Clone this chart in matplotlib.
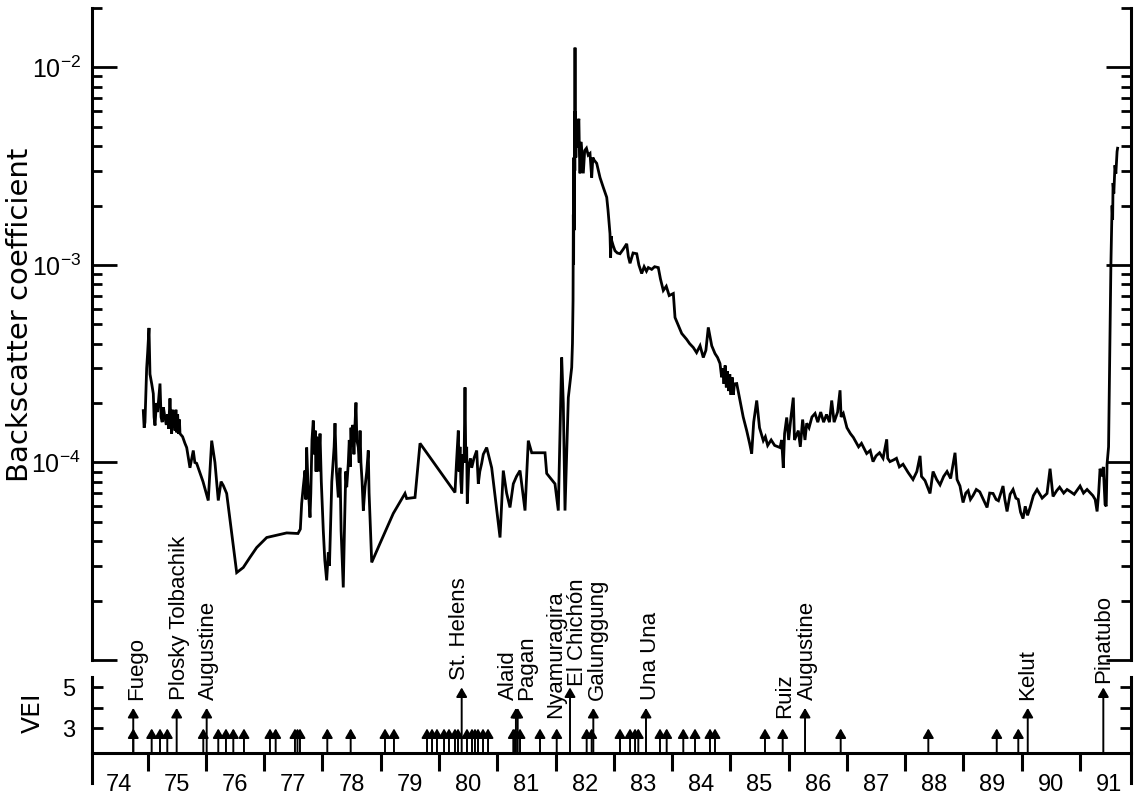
import matplotlib
matplotlib.use("Agg")
import matplotlib.pyplot as plt
from matplotlib.ticker import FixedLocator, NullFormatter, LogLocator

plt.rcParams['font.family'] = ['Liberation Sans', 'DejaVu Sans']
plt.rcParams['mathtext.default'] = 'regular'

# ---------------- data ----------------
# lidar backscatter coefficient time series (decimal year, value)
bs_year = [
    1974.925, 1974.940, 1974.954, 1974.983, 1975.000, 1975.023, 1975.040, 1975.070, 1975.097,
    1975.110, 1975.126, 1975.150, 1975.170, 1975.212, 1975.230, 1975.250, 1975.270, 1975.297,
    1975.320, 1975.340, 1975.360, 1975.383, 1975.400, 1975.412, 1975.425, 1975.440, 1975.455,
    1975.470, 1975.485, 1975.500, 1975.515, 1975.530, 1975.545, 1975.555, 1975.600, 1975.640,
    1975.670, 1975.700, 1975.726, 1975.783, 1975.810, 1975.841, 1975.950, 1976.040, 1976.099,
    1976.155, 1976.212, 1976.260, 1976.298, 1976.356, 1976.528, 1976.641, 1976.756, 1976.871,
    1977.043, 1977.386, 1977.580, 1977.620, 1977.643, 1977.670, 1977.700, 1977.715, 1977.729,
    1977.750, 1977.786, 1977.800, 1977.820, 1977.842, 1977.860, 1977.875, 1977.890, 1977.901,
    1977.930, 1977.958, 1977.980, 1978.014, 1978.040, 1978.072, 1978.100, 1978.120, 1978.160,
    1978.200, 1978.215, 1978.240, 1978.272, 1978.301, 1978.320, 1978.357, 1978.380, 1978.400,
    1978.416, 1978.443, 1978.460, 1978.475, 1978.490, 1978.501, 1978.520, 1978.540, 1978.560,
    1978.575, 1978.590, 1978.615, 1978.630, 1978.645, 1978.660, 1978.680, 1978.701, 1978.730,
    1978.760, 1978.786, 1978.800, 1978.845, 1978.987, 1979.215, 1979.416, 1979.445, 1979.588,
    1979.674, 1980.274, 1980.300, 1980.331, 1980.345, 1980.360, 1980.375, 1980.389, 1980.410,
    1980.430, 1980.446, 1980.460, 1980.475, 1980.485, 1980.510, 1980.540, 1980.561, 1980.600,
    1980.647, 1980.674, 1980.700, 1980.732, 1980.760, 1980.818, 1980.904, 1981.047, 1981.103,
    1981.160, 1981.218, 1981.275, 1981.330, 1981.390, 1981.476, 1981.532, 1981.591, 1981.819,
    1981.848, 1981.990, 1982.047, 1982.105, 1982.133, 1982.162, 1982.219, 1982.277, 1982.290,
    1982.300, 1982.305, 1982.310, 1982.315, 1982.320, 1982.325, 1982.330, 1982.334, 1982.338,
    1982.342, 1982.348, 1982.355, 1982.363, 1982.380, 1982.400, 1982.410, 1982.420, 1982.435,
    1982.449, 1982.476, 1982.500, 1982.530, 1982.560, 1982.591, 1982.620, 1982.640, 1982.660,
    1982.706, 1982.763, 1982.819, 1982.878, 1982.900, 1982.934, 1982.945, 1982.955, 1982.963,
    1982.990, 1983.020, 1983.060, 1983.106, 1983.160, 1983.221, 1983.250, 1983.278, 1983.330,
    1983.393, 1983.430, 1983.478, 1983.520, 1983.560, 1983.592, 1983.650, 1983.700, 1983.763,
    1983.800, 1983.849, 1983.900, 1983.950, 1984.021, 1984.050, 1984.100, 1984.165, 1984.250,
    1984.300, 1984.364, 1984.420, 1984.480, 1984.535, 1984.580, 1984.621, 1984.680, 1984.736,
    1984.780, 1984.822, 1984.850, 1984.870, 1984.890, 1984.910, 1984.930, 1984.950, 1984.970,
    1984.990, 1985.010, 1985.030, 1985.050, 1985.070, 1985.109, 1985.165, 1985.220, 1985.280,
    1985.330, 1985.366, 1985.400, 1985.452, 1985.500, 1985.565, 1985.600, 1985.640, 1985.700,
    1985.760, 1985.852, 1985.880, 1985.908, 1985.930, 1985.967, 1986.000, 1986.040, 1986.080,
    1986.100, 1986.166, 1986.200, 1986.240, 1986.280, 1986.310, 1986.350, 1986.400, 1986.453,
    1986.500, 1986.550, 1986.600, 1986.650, 1986.700, 1986.739, 1986.780, 1986.840, 1986.882,
    1986.900, 1986.938, 1987.000, 1987.060, 1987.110, 1987.200, 1987.250, 1987.339, 1987.400,
    1987.448, 1987.500, 1987.560, 1987.620, 1987.683, 1987.700, 1987.739, 1987.800, 1987.850,
    1987.900, 1987.963, 1988.050, 1988.134, 1988.200, 1988.255, 1988.280, 1988.340, 1988.426,
    1988.478, 1988.540, 1988.598, 1988.660, 1988.718, 1988.780, 1988.855, 1988.890, 1988.940,
    1988.993, 1989.040, 1989.080, 1989.120, 1989.164, 1989.220, 1989.280, 1989.340, 1989.405,
    1989.450, 1989.508, 1989.560, 1989.600, 1989.679, 1989.710, 1989.748, 1989.800, 1989.851,
    1989.900, 1989.940, 1989.980, 1990.022, 1990.060, 1990.100, 1990.143, 1990.200, 1990.263,
    1990.300, 1990.350, 1990.434, 1990.486, 1990.537, 1990.600, 1990.650, 1990.720, 1990.778,
    1990.840, 1990.900, 1991.001, 1991.060, 1991.121, 1991.180, 1991.220, 1991.260, 1991.293,
    1991.320, 1991.344, 1991.380, 1991.400, 1991.430, 1991.450, 1991.464, 1991.490, 1991.516,
    1991.530, 1991.550, 1991.560, 1991.567, 1991.580, 1991.600, 1991.615, 1991.636, 1991.645,
]
bs_value = [
    1.83e-4, 1.50e-4, 1.60e-4, 3.00e-4, 3.60e-4, 4.80e-4, 2.80e-4, 2.50e-4, 2.23e-4,
    1.70e-4, 1.54e-4, 2.00e-4, 1.80e-4, 2.51e-4, 1.70e-4, 1.60e-4, 1.90e-4, 1.69e-4,
    1.55e-4, 1.75e-4, 1.48e-4, 2.11e-4, 1.60e-4, 1.40e-4, 1.85e-4, 1.50e-4, 1.80e-4,
    1.45e-4, 1.85e-4, 1.42e-4, 1.75e-4, 1.40e-4, 1.65e-4, 1.40e-4, 1.35e-4, 1.25e-4,
    1.19e-4, 1.05e-4, 9.40e-5, 1.15e-4, 1.00e-4, 9.90e-5, 8.00e-5, 6.42e-5, 1.29e-4,
    1.00e-4, 6.42e-5, 8.00e-5, 7.65e-5, 6.97e-5, 2.77e-5, 2.94e-5, 3.31e-5, 3.71e-5,
    4.17e-5, 4.40e-5, 4.37e-5, 4.60e-5, 6.20e-5, 7.50e-5, 9.10e-5, 6.50e-5, 1.19e-4,
    8.00e-5, 5.27e-5, 7.00e-5, 1.30e-4, 1.63e-4, 1.10e-4, 1.45e-4, 9.00e-5, 1.35e-4,
    9.00e-5, 1.40e-4, 8.00e-5, 4.53e-5, 3.20e-5, 2.53e-5, 3.50e-5, 3.00e-5, 8.00e-5,
    1.20e-4, 1.58e-4, 9.00e-5, 6.65e-5, 9.40e-5, 4.50e-5, 2.33e-5, 5.00e-5, 9.00e-5,
    7.50e-5, 9.90e-5, 1.30e-4, 9.50e-5, 1.50e-4, 1.20e-4, 1.55e-4, 1.10e-4, 1.60e-4,
    2.01e-4, 1.30e-4, 1.19e-4, 1.00e-4, 1.45e-4, 1.00e-4, 8.00e-5, 5.71e-5, 7.50e-5,
    9.00e-5, 1.15e-4, 7.00e-5, 3.12e-5, 3.89e-5, 5.52e-5, 6.97e-5, 6.57e-5, 6.65e-5,
    1.25e-4, 7.05e-5, 1.00e-4, 1.45e-4, 9.00e-5, 1.20e-4, 8.00e-5, 6.97e-5, 1.10e-4,
    1.00e-4, 2.40e-4, 1.00e-4, 1.20e-4, 6.20e-5, 9.50e-5, 1.05e-4, 9.40e-5, 1.05e-4,
    1.15e-4, 7.80e-5, 9.00e-5, 9.90e-5, 1.10e-4, 1.19e-4, 9.40e-5, 4.17e-5, 9.10e-5,
    7.00e-5, 5.92e-5, 7.80e-5, 8.50e-5, 9.10e-5, 5.71e-5, 1.29e-4, 1.12e-4, 1.12e-4,
    8.80e-5, 7.80e-5, 5.71e-5, 3.40e-4, 1.99e-4, 5.71e-5, 2.13e-4, 3.03e-4, 4.00e-4,
    6.60e-4, 1.80e-3, 1.00e-3, 3.50e-3, 1.50e-3, 6.00e-3, 3.00e-3, 1.26e-2, 3.50e-3,
    6.00e-3, 3.50e-3, 5.20e-3, 3.94e-3, 5.00e-3, 5.50e-3, 3.60e-3, 2.91e-3, 4.20e-3,
    3.80e-3, 2.91e-3, 3.80e-3, 3.90e-3, 3.60e-3, 3.67e-3, 2.77e-3, 3.50e-3, 3.40e-3,
    3.27e-3, 2.77e-3, 2.47e-3, 2.20e-3, 1.90e-3, 1.44e-3, 1.09e-3, 1.40e-3, 1.33e-3,
    1.25e-3, 1.18e-3, 1.15e-3, 1.14e-3, 1.20e-3, 1.28e-3, 1.10e-3, 1.02e-3, 1.15e-3,
    1.14e-3, 1.00e-3, 9.05e-4, 9.80e-4, 9.30e-4, 9.70e-4, 9.50e-4, 9.80e-4, 9.70e-4,
    8.50e-4, 7.43e-4, 7.80e-4, 7.00e-4, 7.17e-4, 5.42e-4, 5.00e-4, 4.50e-4, 4.20e-4,
    4.00e-4, 3.82e-4, 3.60e-4, 3.90e-4, 3.40e-4, 3.70e-4, 4.83e-4, 3.90e-4, 3.56e-4,
    3.40e-4, 3.17e-4, 2.70e-4, 3.00e-4, 2.50e-4, 3.10e-4, 2.40e-4, 2.90e-4, 2.30e-4,
    2.80e-4, 2.20e-4, 2.70e-4, 2.20e-4, 2.50e-4, 2.51e-4, 2.06e-4, 1.70e-4, 1.45e-4,
    1.25e-4, 1.11e-4, 1.60e-4, 2.06e-4, 1.50e-4, 1.29e-4, 1.35e-4, 1.22e-4, 1.30e-4,
    1.22e-4, 1.19e-4, 1.30e-4, 9.40e-5, 1.40e-4, 1.69e-4, 1.30e-4, 1.70e-4, 2.13e-4,
    1.30e-4, 1.45e-4, 1.20e-4, 1.65e-4, 1.30e-4, 1.58e-4, 1.50e-4, 1.70e-4, 1.77e-4,
    1.60e-4, 1.80e-4, 1.60e-4, 1.75e-4, 1.60e-4, 2.06e-4, 1.60e-4, 1.80e-4, 2.32e-4,
    1.70e-4, 1.77e-4, 1.50e-4, 1.40e-4, 1.34e-4, 1.20e-4, 1.25e-4, 1.11e-4, 1.15e-4,
    1.01e-4, 1.08e-4, 1.12e-4, 1.05e-4, 1.31e-4, 1.05e-4, 1.01e-4, 1.03e-4, 1.05e-4,
    9.50e-5, 9.80e-5, 8.90e-5, 8.20e-5, 9.00e-5, 1.08e-4, 8.50e-5, 8.10e-5, 6.97e-5,
    9.00e-5, 8.20e-5, 7.70e-5, 8.50e-5, 9.00e-5, 8.30e-5, 1.12e-4, 8.20e-5, 7.60e-5,
    6.27e-5, 7.00e-5, 7.20e-5, 6.50e-5, 6.80e-5, 7.30e-5, 7.10e-5, 6.50e-5, 5.92e-5,
    7.00e-5, 6.97e-5, 6.50e-5, 6.40e-5, 7.60e-5, 6.50e-5, 5.65e-5, 6.90e-5, 7.30e-5,
    6.60e-5, 6.50e-5, 5.60e-5, 5.20e-5, 6.00e-5, 5.40e-5, 5.92e-5, 6.80e-5, 7.30e-5,
    7.00e-5, 6.60e-5, 6.97e-5, 9.30e-5, 6.73e-5, 7.20e-5, 7.50e-5, 7.00e-5, 7.30e-5,
    7.10e-5, 6.90e-5, 7.60e-5, 7.00e-5, 7.30e-5, 7.00e-5, 6.80e-5, 6.50e-5, 5.65e-5,
    7.00e-5, 9.30e-5, 8.50e-5, 9.50e-5, 6.13e-5, 6.00e-5, 9.80e-5, 1.20e-4, 4.71e-4,
    1.00e-3, 2.00e-3, 1.70e-3, 2.60e-3, 2.30e-3, 3.20e-3, 2.90e-3, 3.75e-3, 3.90e-3,
]

# volcanic eruptions: decimal year and Volcanic Explosivity Index
vei3_years = [
    1974.753, 1975.069, 1975.212, 1975.337, 1975.955, 1976.212, 1976.344, 1976.470, 1976.653,
    1977.099, 1977.197, 1977.528, 1977.571, 1977.614, 1978.083, 1978.484, 1979.073, 1979.227,
    1979.794, 1979.880, 1979.965, 1980.086, 1980.171, 1980.274, 1980.326, 1980.480, 1980.566,
    1980.617, 1980.669, 1980.755, 1980.841, 1981.275, 1981.304, 1981.390, 1981.733, 1982.020,
    1982.534, 1982.620, 1983.106, 1983.278, 1983.364, 1983.420, 1983.792, 1983.907, 1984.192,
    1984.393, 1984.650, 1984.736, 1985.594, 1985.898, 1986.893, 1988.397, 1989.571, 1989.941,
]
vei4_years = [1974.753, 1975.498, 1976.013, 1981.320, 1981.350, 1982.648, 1983.552, 1986.281, 1990.103]
vei5_years = [1980.389, 1982.248, 1991.400]

volcano_names = ["Fuego", "Plosky Tolbachik", "Augustine", "St. Helens", "Alaid", "Pagan",
                 "Nyamuragira", "El Chichón", "Galunggung", "Una Una", "Ruiz", "Augustine",
                 "Kelut", "Pinatubo"]
volcano_label_year = [1974.817, 1975.538, 1976.052, 1980.360, 1981.184, 1981.510,
                      1982.000, 1982.370, 1982.711, 1983.621, 1985.938, 1986.316,
                      1990.109, 1991.397]
volcano_label_base = [4.39, 4.39, 4.39, 5.37, 4.39, 4.39,
                      3.51, 5.05, 4.39, 4.39, 3.51, 4.39,
                      4.39, 5.22]

year_ticks = list(range(1975, 1992))
year_label_pos = [y + 0.5 for y in range(1974, 1992)]
year_labels = [f"{y % 100:02d}" for y in range(1974, 1992)]

# ---------------- figure ----------------
W, H = 1141, 798
fig = plt.figure(figsize=(W / 100, H / 100), dpi=100)
XL = (1974.045, 1991.875)

ax = fig.add_axes([92 / W, 1 - 660 / H, (1131 - 92) / W, (660 - 8) / H])
ax.plot(bs_year, bs_value, color='black', lw=2.0, solid_joinstyle='miter')
ax.set_yscale('log')
ax.set_ylim(1e-5, 2e-2)
ax.set_xlim(*XL)
for s in ('top', 'bottom'):
    ax.spines[s].set_visible(False)
for s in ('left', 'right'):
    ax.spines[s].set_linewidth(2.2)
ax.set_xticks([])
ax.yaxis.set_major_locator(FixedLocator([1e-5, 1e-4, 1e-3, 1e-2]))
ax.yaxis.set_minor_locator(LogLocator(base=10, subs=range(2, 10)))
ax.yaxis.set_minor_formatter(NullFormatter())
ax.set_yticklabels(['', r'$10^{-4}$', r'$10^{-3}$', r'$10^{-2}$'])
ax.tick_params(axis='y', which='major', direction='in', length=18, width=2.0,
               right=True, labelsize=18, pad=8)
ax.tick_params(axis='y', which='minor', direction='in', length=7, width=2.0, right=True)
ax.set_ylabel('Backscatter coefficient', fontsize=21, family=['DejaVu Sans'])
ax.yaxis.set_label_coords(-0.056, 0.53)

# ---------------- VEI panel ----------------
BASE = 1.8
bx = fig.add_axes([92 / W, 1 - 783 / H, (1131 - 92) / W, (783 - 677) / H])
bx.set_xlim(*XL)
bx.set_ylim(0.34, 5.51)
bx.spines['top'].set_visible(False)
bx.spines['bottom'].set_position(('data', BASE))
for s in ('left', 'right', 'bottom'):
    bx.spines[s].set_linewidth(2.2)
bx.set_xticks(year_ticks)
bx.set_xticklabels([])
bx.set_xticks(year_label_pos, minor=True)
bx.set_xticklabels(year_labels, minor=True)
bx.tick_params(axis='x', which='major', direction='out', length=13, width=2.2)
bx.tick_params(axis='x', which='minor', length=0, labelsize=17, pad=15)
bx.set_yticks([3, 4, 5])
bx.set_yticklabels(['3', '', '5'])
bx.tick_params(axis='y', direction='in', length=8, width=2.0, right=True,
               labelsize=17, pad=12)
bx.set_ylabel('VEI', fontsize=18, family=['DejaVu Sans'])
bx.yaxis.set_label_coords(-0.045, 0.66)

arrow_kw = dict(arrowstyle='-|>,head_length=0.55,head_width=0.32', color='black',
                lw=1.4, shrinkA=0, shrinkB=0, mutation_scale=10)
for yr in vei3_years:
    bx.annotate('', xy=(yr, 3), xytext=(yr, BASE), arrowprops=arrow_kw, annotation_clip=False)
for yr in vei4_years:
    bx.annotate('', xy=(yr, 4), xytext=(yr, BASE), arrowprops=arrow_kw, annotation_clip=False)
for yr in vei5_years:
    bx.annotate('', xy=(yr, 5), xytext=(yr, BASE), arrowprops=arrow_kw, annotation_clip=False)

for name, yr, yb in zip(volcano_names, volcano_label_year, volcano_label_base):
    bx.text(yr, yb, name, rotation=90, ha='center', va='bottom', fontsize=16,
            clip_on=False)

fig.savefig('out.png', dpi=100)
